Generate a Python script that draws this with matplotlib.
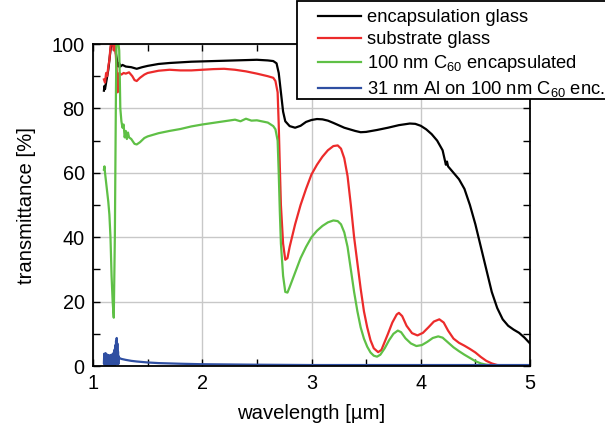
import matplotlib
matplotlib.use("Agg")
import matplotlib.pyplot as plt
from matplotlib.patches import Rectangle
from matplotlib.ticker import MultipleLocator

plt.rcParams['font.family'] = ['Liberation Sans', 'DejaVu Sans']
plt.rcParams['mathtext.fontset'] = 'custom'
plt.rcParams['mathtext.rm'] = 'Liberation Sans'
plt.rcParams['mathtext.it'] = 'Liberation Sans:italic'

# encapsulation glass
wl_black = [1.10, 1.105, 1.11, 1.12, 1.13, 1.14, 1.15, 1.16, 1.17, 1.18, 1.19, 1.20, 1.21, 1.22,
            1.23, 1.24, 1.25, 1.27, 1.30, 1.35, 1.40, 1.45, 1.5, 1.6, 1.7, 1.8, 1.9, 2.0, 2.2,
            2.4, 2.5, 2.6, 2.65, 2.68, 2.70, 2.72, 2.74, 2.76, 2.80, 2.85, 2.90, 2.95, 3.0,
            3.05, 3.10, 3.15, 3.2, 3.3, 3.4, 3.45, 3.5, 3.6, 3.7, 3.8, 3.9, 3.95, 4.0, 4.05,
            4.1, 4.15, 4.2, 4.22, 4.23, 4.24, 4.25, 4.3, 4.35, 4.4, 4.45, 4.5, 4.55, 4.6,
            4.65, 4.7, 4.75, 4.8, 4.85, 4.9, 4.95, 5.0]
t_black = [85.5, 87, 86, 88, 90, 92, 95, 98, 101, 101, 99, 101, 97, 95,
           93, 94, 93, 93.5, 93, 92.8, 92.3, 92.8, 93.2, 93.8, 94.1, 94.3, 94.5, 94.6, 94.8,
           95.0, 95.1, 94.9, 94.7, 94, 91, 85, 79, 76, 74.5, 74.0, 74.6, 75.8, 76.4,
           76.7, 76.6, 76.2, 75.5, 74.0, 73.0, 72.6, 72.7, 73.3, 74.0, 74.8, 75.3, 75.2, 74.6, 73.5,
           72, 70, 67, 64, 62.5, 63.5, 62, 60, 58, 55, 50, 44, 37, 30,
           23, 18, 14.5, 12.5, 11.3, 10.3, 8.8, 7.0]

# substrate glass
wl_red = [1.10, 1.11, 1.12, 1.13, 1.14, 1.15, 1.16, 1.17, 1.18, 1.19, 1.20, 1.21, 1.22, 1.225,
          1.23, 1.24, 1.26, 1.28, 1.30, 1.33, 1.36, 1.38, 1.40, 1.43, 1.47, 1.5, 1.6, 1.7,
          1.8, 1.9, 2.0, 2.1, 2.2, 2.3, 2.4, 2.5, 2.6, 2.65, 2.67, 2.69, 2.70, 2.71, 2.72,
          2.74, 2.76, 2.78, 2.80, 2.85, 2.9, 2.95, 3.0, 3.05, 3.1, 3.15, 3.2, 3.24, 3.27,
          3.3, 3.33, 3.36, 3.39, 3.42, 3.45, 3.48, 3.51, 3.54, 3.57, 3.61, 3.64, 3.67, 3.70,
          3.74, 3.78, 3.80, 3.83, 3.87, 3.92, 3.97, 4.02, 4.07, 4.12, 4.17, 4.21, 4.25, 4.3,
          4.35, 4.4, 4.45, 4.5, 4.55, 4.6, 4.65, 4.7, 4.8, 5.0]
t_red = [89, 88, 91, 90, 93, 95, 99, 101, 101, 98, 101, 96, 90, 85,
         89, 91, 90.5, 91, 90.8, 91.2, 90, 88.8, 88.5, 89.5, 90.5, 91, 91.7, 92,
         91.8, 91.8, 92.0, 92.2, 92.3, 92.0, 91.5, 90.8, 90.0, 89.5, 88.5, 85, 75, 62, 50,
         38, 33, 33.5, 37, 44, 50, 55, 59.5, 62.5, 65, 67, 68.3, 68.5, 67.5,
         64.5, 59, 50, 40, 32, 24, 17, 12, 8, 5.5, 4.3, 5, 7.5, 10,
         13.5, 16, 16.5, 15.5, 12.5, 10.2, 9.5, 10.3, 12, 13.8, 14.5, 13.5, 11, 8.5,
         7.2, 6.3, 5.3, 4.2, 2.8, 1.6, 0.8, 0.3, 0.1, 0.05]

# 100 nm C60 encapsulated
wl_green = [1.10, 1.105, 1.11, 1.12, 1.13, 1.14, 1.15, 1.16, 1.17, 1.18, 1.19, 1.20, 1.21, 1.215,
            1.22, 1.23, 1.24, 1.245, 1.25, 1.26, 1.27, 1.28, 1.29, 1.30, 1.31, 1.32, 1.33, 1.35,
            1.38, 1.40, 1.43, 1.47, 1.5, 1.6, 1.7, 1.8, 1.9, 2.0, 2.1, 2.2, 2.3, 2.35, 2.4,
            2.45, 2.5, 2.6, 2.65, 2.67, 2.69, 2.70, 2.71, 2.72, 2.74, 2.76, 2.78, 2.80, 2.85,
            2.9, 2.95, 3.0, 3.05, 3.1, 3.15, 3.2, 3.24, 3.27, 3.3, 3.33, 3.36, 3.39, 3.42, 3.45,
            3.48, 3.51, 3.54, 3.57, 3.60, 3.63, 3.67, 3.71, 3.75, 3.79, 3.82, 3.86, 3.91, 3.96,
            4.01, 4.06, 4.11, 4.16, 4.2, 4.25, 4.3, 4.35, 4.4, 4.45, 4.5, 4.55, 4.6, 4.7, 5.0]
t_green = [61, 62, 60, 57, 54, 51, 47, 40, 28, 20, 15, 40, 85, 101,
           101, 101, 98, 90, 80, 76, 74, 75, 71, 73, 70.5, 72.5, 71, 70.5,
           69, 68.8, 69.5, 70.8, 71.3, 72.3, 73, 73.6, 74.4, 75, 75.5, 76.0, 76.5, 76.0, 76.8,
           76.2, 76.3, 75.6, 74.5, 73.5, 70, 60, 48, 38, 28, 23, 22.8, 24.5, 29,
           33.5, 37, 40, 42, 43.5, 44.6, 45.2, 45.0, 44, 41.5, 37, 30, 23, 17, 12,
           8.5, 6, 4.2, 3.2, 2.9, 3.5, 5.5, 8, 10, 11, 10.5, 8.6, 7, 6.2,
           6.5, 7.5, 8.7, 9.2, 8.8, 7.3, 5.8, 4.6, 3.5, 2.5, 1.5, 0.8, 0.4, 0.1, 0.05]

# 31 nm Al on 100 nm C60 enc.
wl_blue = [1.10, 1.103, 1.106, 1.109, 1.112, 1.115, 1.118, 1.121, 1.124, 1.127, 1.130, 1.133,
           1.136, 1.139, 1.142, 1.145, 1.148, 1.151, 1.154, 1.157, 1.160, 1.163, 1.166, 1.169,
           1.172, 1.175, 1.178, 1.181, 1.184, 1.187, 1.190, 1.193, 1.196, 1.199, 1.202, 1.205,
           1.208, 1.211, 1.214, 1.217, 1.220, 1.223, 1.226, 1.229, 1.232, 1.235, 1.24, 1.26,
           1.3, 1.35, 1.4, 1.5, 1.6, 1.8, 2.0, 2.5, 3.0, 3.5, 4.0, 4.5, 5.0]
t_blue = [1.0, 3.8, 0.4, 3.5, 0.5, 4.0, 0.4, 3.3, 0.5, 3.6, 0.4, 3.2, 0.5, 3.4, 0.4, 3.0,
          0.5, 3.3, 0.4, 2.8, 0.5, 3.2, 0.4, 3.5, 0.5, 2.9, 0.4, 3.7, 0.5, 4.0, 0.4, 4.5,
          0.5, 5.2, 0.4, 6.5, 0.5, 7.8, 0.6, 8.7, 0.6, 7.0, 0.6, 4.5, 0.6, 3.0, 2.5, 2.2,
          1.9, 1.6, 1.4, 1.1, 0.9, 0.7, 0.55, 0.4, 0.3, 0.3, 0.3, 0.3, 0.3]

labels = ['encapsulation glass', 'substrate glass',
          '100 nm C$_{60}$ encapsulated', '31 nm Al on 100 nm C$_{60}$ enc.']

fig = plt.figure(figsize=(6.05, 4.32), dpi=100)
ax = fig.add_axes([93 / 605, 1 - 366 / 432, 437 / 605, 322 / 432])

ax.plot(wl_black, t_black, color='black', lw=1.6, label=labels[0])
ax.plot(wl_red, t_red, color='#ec2b2b', lw=1.6, label=labels[1])
ax.plot(wl_green, t_green, color='#5fc046', lw=1.6, label=labels[2])
ax.plot(wl_blue, t_blue, color='#2f4fa2', lw=1.6, label=labels[3])

ax.set_xlim(1, 5)
ax.set_ylim(0, 100)
ax.xaxis.set_major_locator(MultipleLocator(1))
ax.xaxis.set_minor_locator(MultipleLocator(0.5))
ax.yaxis.set_major_locator(MultipleLocator(20))
ax.yaxis.set_minor_locator(MultipleLocator(10))
ax.grid(True, which='major', color='#c8c8c8', lw=1.0)
ax.set_axisbelow(True)
ax.tick_params(which='both', direction='in', top=True, right=True, labelsize=14.3,
               width=1.0, length=5, pad=6)
for s in ax.spines.values():
    s.set_linewidth(1.3)

ax.set_xlabel('wavelength [µm]', fontsize=14.6, labelpad=8)
ax.set_ylabel('transmittance [%]', fontsize=14.6, labelpad=11)

# legend box (drawn separately so the padding matches the original)
fig.patches.append(Rectangle((297 / 605, 1 - 99 / 432), 0.6, 98 / 432,
                             transform=fig.transFigure, facecolor='white',
                             edgecolor='black', lw=1.3, zorder=3))
leg = fig.legend(loc='upper left', bbox_to_anchor=(318 / 605, 1 - 9 / 432), fontsize=13.2,
                 frameon=False, handlelength=2.35, handletextpad=0.33,
                 labelspacing=0.28, borderpad=0, borderaxespad=0)
leg.set_zorder(4)

fig.savefig('out.png', dpi=100)
